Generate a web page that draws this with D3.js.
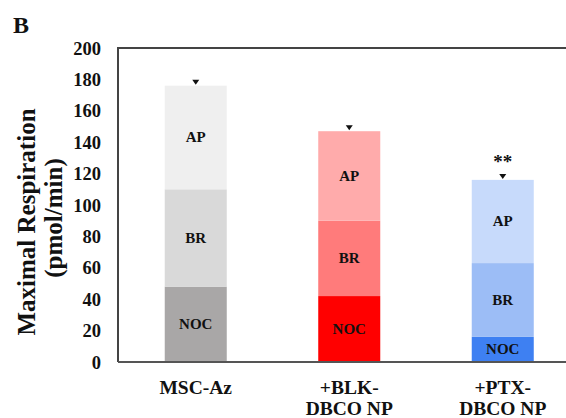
<!DOCTYPE html>
<html>
<head>
<meta charset="utf-8">
<style>
body { margin: 0; background: #fff; }
text { font-family: "Liberation Serif", "Times New Roman", serif; font-weight: bold; fill: #111; }
</style>
</head>
<body>
<script src="https://cdn.jsdelivr.net/npm/d3@7"></script>
<script>
// data
var groups = ["MSC-Az", "+BLK-|DBCO NP", "+PTX-|DBCO NP"];
var parts = ["NOC", "BR", "AP"];
var nocVals = [48, 42, 16];
var brVals = [62, 48, 47];
var apVals = [66, 57, 53];
var yTicks = [0, 20, 40, 60, 80, 100, 120, 140, 160, 180, 200];
var signif = ["", "", "**"];

var palette = [
  ["#a9a7a7", "#d9d9d9", "#efefef"],
  ["#ff0000", "#ff7b7b", "#ffabab"],
  ["#3e80f2", "#9cbdf6", "#c7dafb"]
];

var width = 566, height = 418;
// note: "top" is reserved on window, so use plot* names
var plotL = 118, plotT = 48, plotB = 362, plotR = 566;

var svg = d3.select("body").append("svg")
    .attr("width", width)
    .attr("height", height);

var x = d3.scaleBand()
    .domain(groups)
    .range([plotL + 1, plotL + 1 + 3 * 153.5])
    .paddingInner(0.596)
    .paddingOuter(0.298);

var y = d3.scaleLinear()
    .domain([0, 200])
    .range([plotB, plotT]);

var rows = groups.map(function(g, i) {
  return { group: g, NOC: nocVals[i], BR: brVals[i], AP: apVals[i], idx: i };
});
var stacked = d3.stack().keys(parts)(rows);

// frame
svg.append("path")
    .attr("d", "M" + plotL + "," + plotB + "V" + plotT + "H" + plotR)
    .attr("fill", "none")
    .attr("stroke", "#444")
    .attr("stroke-width", 2);

// bars
stacked.forEach(function(layer, k) {
  svg.append("g").selectAll("rect")
      .data(layer)
      .enter().append("rect")
      .attr("x", function(d) { return x(d.data.group); })
      .attr("width", x.bandwidth())
      .attr("y", function(d) { return y(d[1]); })
      .attr("height", function(d) { return y(d[0]) - y(d[1]); })
      .attr("fill", function(d) { return palette[d.data.idx][k]; });

  svg.append("g").selectAll("text")
      .data(layer)
      .enter().append("text")
      .attr("x", function(d) { return x(d.data.group) + x.bandwidth() / 2; })
      .attr("y", function(d) { return (y(d[0]) + y(d[1])) / 2 + 5; })
      .attr("text-anchor", "middle")
      .style("font-size", "15px")
      .text(layer.key);
});

// baseline
svg.append("line")
    .attr("x1", plotL).attr("x2", plotR)
    .attr("y1", plotB).attr("y2", plotB)
    .attr("stroke", "#555")
    .attr("stroke-width", 2);

// error caps
var tops = stacked[2];
svg.append("g").selectAll("path")
    .data(tops)
    .enter().append("path")
    .attr("d", function(d) {
      var cx = x(d.data.group) + x.bandwidth() / 2, cy = y(d[1]) - 3;
      return "M" + (cx - 3.5) + "," + (cy - 3) + "H" + (cx + 3.5) + "L" + cx + "," + (cy + 2) + "Z";
    })
    .attr("fill", "#111");

svg.append("g").selectAll("text")
    .data(tops)
    .enter().append("text")
    .attr("x", function(d) { return x(d.data.group) + x.bandwidth() / 2; })
    .attr("y", function(d) { return y(d[1]) - 12; })
    .attr("text-anchor", "middle")
    .style("font-size", "19px")
    .text(function(d) { return signif[d.data.idx]; });

// y axis labels
svg.append("g").selectAll("text")
    .data(yTicks)
    .enter().append("text")
    .attr("x", 101)
    .attr("y", function(d) { return y(d) + 6.5; })
    .attr("text-anchor", "end")
    .style("font-size", "18.5px")
    .text(function(d) { return d; });

// x labels
groups.forEach(function(g) {
  var lines = g.split("|");
  var t = svg.append("text")
      .attr("x", x(g) + x.bandwidth() / 2)
      .attr("y", 394)
      .attr("text-anchor", "middle")
      .style("font-size", "19.5px");
  lines.forEach(function(l, i) {
    t.append("tspan")
        .attr("x", x(g) + x.bandwidth() / 2)
        .attr("dy", i == 0 ? 0 : 21)
        .text(l);
  });
});

// y title
svg.append("text")
    .attr("transform", "translate(35,222) rotate(-90)")
    .attr("text-anchor", "middle")
    .style("font-size", "25px")
    .text("Maximal Respiration");
svg.append("text")
    .attr("transform", "translate(62,218) rotate(-90)")
    .attr("text-anchor", "middle")
    .style("font-size", "25px")
    .text("(pmol/min)");

// panel letter
svg.append("text")
    .attr("x", 13)
    .attr("y", 33)
    .style("font-size", "24px")
    .text("B");
</script>
</body>
</html>
